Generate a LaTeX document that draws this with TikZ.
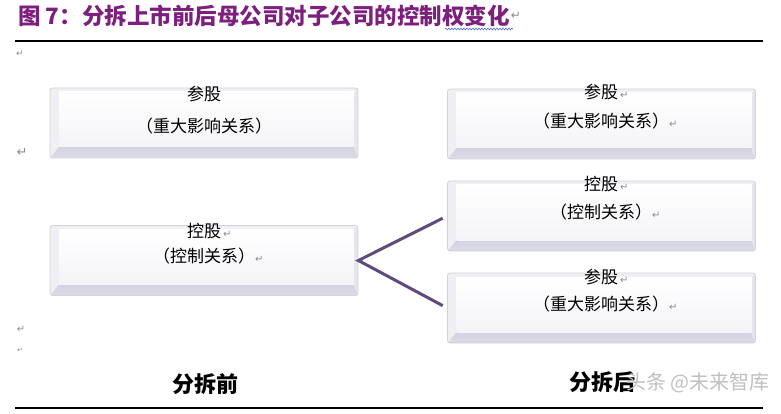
\documentclass[tikz,border=0pt]{standalone}
\usepackage{xcolor}
\usepackage{fontspec}
\usepackage{tikz}
\usetikzlibrary{positioning,decorations.pathmorphing}

\newfontfamily\cjk{Noto Sans CJK SC}
\newfontfamily\dejavu{DejaVu Sans}

\definecolor{titlepurple}{HTML}{7D1F7D}
\definecolor{linkpurple}{HTML}{5D4A7E}
\definecolor{boxrim}{HTML}{D2D2DA}
\definecolor{bevleft}{HTML}{D3D2E0}
\definecolor{bevbottom}{HTML}{DCDBE6}
\definecolor{bevtop}{HTML}{F0EFF4}
\definecolor{bevright}{HTML}{E6E5EE}
\definecolor{facelow}{HTML}{F4F4F8}
\definecolor{retgray}{HTML}{8C8C8C}
\definecolor{spellblue}{HTML}{4A6FD8}

% gray paragraph mark
\newcommand\retmark[1][10]{{\color{retgray}\dejavu\fontsize{#1}{#1}\selectfont ↵}}

\tikzset{
  bevelbox/.style={draw=boxrim, line width=0.8pt, rounded corners=2.5pt, fill=white,
    minimum width=308pt, minimum height=70pt, inner sep=0pt,
    path picture={
      \shade[sharp corners, left color=bevtop, right color=bevleft] (path picture bounding box.north west) -- (path picture bounding box.south west)
        -- ([shift={(9,-11)}]path picture bounding box.south west) -- ([shift={(9,4)}]path picture bounding box.north west) -- cycle;
      \shade[sharp corners, top color=bevleft, bottom color=bevbottom] (path picture bounding box.south west) -- (path picture bounding box.south east)
        -- ([shift={(-4,-11)}]path picture bounding box.south east) -- ([shift={(9,-11)}]path picture bounding box.south west) -- cycle;
      \fill[bevtop, sharp corners] (path picture bounding box.north west) -- (path picture bounding box.north east)
        -- ([shift={(-4,4)}]path picture bounding box.north east) -- ([shift={(9,4)}]path picture bounding box.north west) -- cycle;
      \fill[bevright, sharp corners] (path picture bounding box.north east) -- (path picture bounding box.south east)
        -- ([shift={(-4,-11)}]path picture bounding box.south east) -- ([shift={(-4,4)}]path picture bounding box.north east) -- cycle;
      \shade[sharp corners, top color=white, bottom color=facelow]
        ([shift={(9,4)}]path picture bounding box.north west) rectangle ([shift={(-4,-11)}]path picture bounding box.south east);
    }},
  boxtext/.style={anchor=north, align=center, inner sep=0pt, font=\cjk\fontsize{17}{28}\selectfont},
  link/.style={line width=3pt, color=linkpurple, shorten <=5pt, shorten >=5pt},
  rule/.style={line width=1.2pt},
}

\begin{document}
\begin{tikzpicture}[x=1pt,y=-1pt,font=\cjk]
  \useasboundingbox (0,0) rectangle (781,414);

  \node[anchor=west, inner sep=0pt, text=titlepurple, font=\cjk\fontsize{22.5}{22.5}\selectfont\bfseries] (title) at (18,16)
    {图 7：分拆上市前后母公司对子公司的控制权变化};
  \node[right=1pt of title, inner sep=0pt] (title-ret) {\retmark[12]};
  \draw[spellblue, line width=0.6pt, decorate, decoration={snake, amplitude=0.9pt, segment length=3pt}] (445,29) -- (513,29);
  \draw[rule] (15,41) -- (763,41);

  \node[inner sep=0pt] (ret-a) at (20,54) {\retmark[9]};
  \node[inner sep=0pt] (ret-b) at (22,152) {\retmark[13]};
  \node[inner sep=0pt] (ret-c) at (21,329) {\retmark[10]};
  \node[inner sep=0pt] (ret-d) at (20,350) {\retmark[7]};

  % before the split
  \node[bevelbox] (before-ref) at (204,123) {};
  \node[bevelbox] (before-ctrl) at (204,260.5) {};
  \node[boxtext] (before-ref-txt) at (204,86) {参股\\[4pt]（重大影响关系）};
  \node[boxtext] (before-ctrl-txt) at (204,223) {控股\rlap{\kern2pt\retmark}\\[-3pt]（控制关系）\rlap{\retmark}};

  % after the split
  \foreach \n/\y in {ref/124,ctrl/216,minor/308}
    \node[bevelbox] (after-\n) at (601.5,\y) {};
  \node[boxtext] (after-ref-txt) at (601,84) {参股\rlap{\kern2pt\retmark}\\[1pt]（重大影响关系）\rlap{\retmark}};
  \node[boxtext] (after-ctrl-txt) at (601,176) {控股\rlap{\kern2pt\retmark}\\（控制关系）\rlap{\retmark}};
  \node[boxtext] (after-minor-txt) at (601,269) {参股\rlap{\kern2pt\retmark}\\[-1pt]（重大影响关系）\rlap{\retmark}};

  \draw[link] (after-ctrl.west) -- (before-ctrl.east) -- (after-minor.west);

  \node[font=\cjk\fontsize{22}{22}\selectfont\bfseries] (before-lbl) at (205,384) {分拆前};
  \node[font=\cjk\fontsize{22}{22}\selectfont\bfseries] (after-lbl) at (602,382) {分拆后};
  \node[anchor=west, inner sep=0pt, text=gray!50, font=\cjk\fontsize{20}{20}\selectfont] (watermark) at (626,383) {头条 @未来智库};

  \draw[rule] (15,408) -- (763,408);
\end{tikzpicture}
\end{document}
